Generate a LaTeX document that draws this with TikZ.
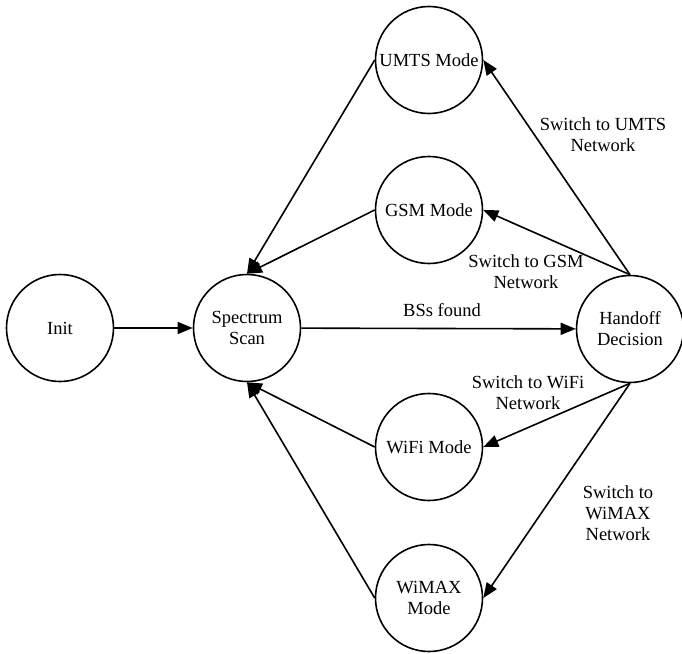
\documentclass[tikz,border=0pt]{standalone}
\usepackage{fontspec}
\setmainfont{Liberation Serif}
\usetikzlibrary{arrows.meta}
\begin{document}
\begin{tikzpicture}[x=1pt,y=-1pt,
  state/.style={circle,draw,line width=1.6pt,minimum size=107pt,inner sep=0pt,
    align=center,font=\fontsize{18.5}{21}\selectfont},
  lbl/.style={align=center,font=\fontsize{18.5}{21}\selectfont},
  flow/.style={line width=1.6pt,-{Triangle[length=15pt,width=12pt]}}]
\useasboundingbox (0,0) rectangle (682,653);
% states
\node[state] (init) at (60,328) {Init};
\node[state] (scan) at (247,328) {Spectrum\\Scan};
\node[state] (hand) at (630,329) {Handoff\\Decision};
\node[state] (umts) at (429,60) {UMTS Mode};
\node[state] (gsm) at (429,210) {GSM Mode};
\node[state] (wifi) at (429,447) {WiFi Mode};
\node[state] (wimax) at (429,598) {WiMAX\\Mode};
% transitions
\draw[flow] (init) -- (scan);
\draw[flow] (scan) -- (hand);
\draw[flow] (umts.west) -- (scan.north);
\draw[flow] (gsm.west) -- (scan.north);
\draw[flow] (wifi.west) -- (scan.south);
\draw[flow] (wimax.west) -- (scan.south);
\draw[flow] (hand.north) -- (umts.east);
\draw[flow] (hand.north) -- (gsm.east);
\draw[flow] (hand.south) -- (wifi.east);
\draw[flow] (hand.south) -- (wimax.east);
% labels
\node[lbl] (l0) at (442,310) {BSs found};
\node[lbl] (l1) at (603,135) {Switch to UMTS\\Network};
\node[lbl] (l2) at (526,272) {Switch to GSM\\Network};
\node[lbl] (l3) at (528,393) {Switch to WiFi\\Network};
\node[lbl] (l4) at (618,513) {Switch to\\WiMAX\\Network};
\end{tikzpicture}
\end{document}
